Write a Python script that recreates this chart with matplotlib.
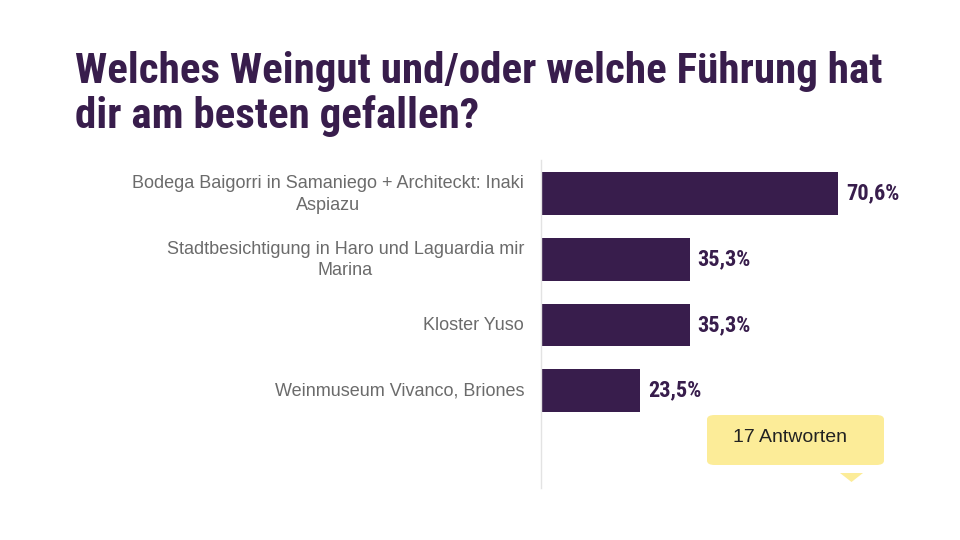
import matplotlib
matplotlib.use('Agg')
import matplotlib.pyplot as plt
from matplotlib import font_manager
from matplotlib.font_manager import FontProperties
from matplotlib.patches import FancyBboxPatch, Polygon

# data
labels = ['Bodega Baigorri in Samaniego + Architeckt: Inaki\nAspiazu',
          'Stadtbesichtigung in Haro und Laguardia mir\nMarina',
          'Kloster Yuso',
          'Weinmuseum Vivanco, Briones']
values = [70.6, 35.3, 35.3, 23.5]
value_labels = ['70,6%', '35,3%', '35,3%', '23,5%']
title = 'Welches Weingut und/oder welche Führung hat\ndir am besten gefallen?'
n_answers = '17 Antworten'

purple = '#381d4c'
grey = '#6b6b6b'

# look for a bold narrow font file (Arial Narrow Bold look)
cands = []
for f in font_manager.fontManager.ttflist:
    fn = f.fname.lower()
    if 'dejavu' in fn or 'italic' in fn or 'oblique' in fn:
        continue
    if ('narrow' in fn or 'condensed' in fn) and ('bold' in fn or f.weight in ('bold', 700, 600)):
        score = 0 if 'liberation' in fn else (1 if 'roboto' in fn else 2)
        cands.append((score, f.fname))
cands.sort()
bold_narrow = cands[0][1] if cands else None

fig = plt.figure(figsize=(9.6, 5.4), dpi=100)
fig.patch.set_facecolor('white')

W, H = 960, 540
ax_l, ax_r, ax_t, ax_b = 541, 920, 160, 488
ax = fig.add_axes([ax_l/W, 1-ax_b/H, (ax_r-ax_l)/W, (ax_b-ax_t)/H])
ypos = list(range(len(values)))
ax.barh(ypos, values, height=0.65, color=purple)
ax.set_xlim(0, (ax_r-ax_l)/4.21)
ax.set_ylim(4.48, -0.51)
ax.set_xticks([])
ax.set_yticks([])
for s in ['top', 'right', 'bottom']:
    ax.spines[s].set_visible(False)
ax.spines['left'].set_color('#e3e3e3')
ax.spines['left'].set_linewidth(1)

# category labels
for y, lab in zip(ypos, labels):
    ax.text(-4.0, y + 0.01, lab, ha='right', va='center', multialignment='center',
            fontsize=13, color=grey, family='Liberation Sans', linespacing=1.36)

if bold_narrow:
    vfp = FontProperties(fname=bold_narrow, size=16)
    tfp = FontProperties(fname=bold_narrow, size=31)
else:
    vfp = FontProperties(family='Liberation Sans', weight='bold', size=13.5)
    tfp = FontProperties(family='Liberation Sans', weight='bold', size=26)

# value labels
for y, v, t in zip(ypos, values, value_labels):
    ax.text(v + 1.9, y, t, ha='left', va='center', color=purple, fontproperties=vfp)

# title
fig.text(75/W, 1-51/H, title, ha='left', va='top', color=purple,
         linespacing=1.08, fontproperties=tfp)

# answer count bubble
bx0, by0, bx1, by1 = 707, 415, 884, 465
box = FancyBboxPatch((bx0/W, 1-by1/H), (bx1-bx0)/W, (by1-by0)/H,
                     boxstyle='round,pad=0,rounding_size=0.008',
                     transform=fig.transFigure, facecolor='#fcec98', edgecolor='none')
fig.patches.append(box)
tri = Polygon([(840/W, 1-473/H), (863/W, 1-473/H), (851.5/W, 1-482/H)],
              closed=True, transform=fig.transFigure, facecolor='#fcec98', edgecolor='none')
fig.patches.append(tri)
fig.text(790/W, 1-437.5/H, n_answers, ha='center', va='center', fontsize=14,
         color='#222222', family='Liberation Sans')

plt.savefig('out.png', dpi=100)
